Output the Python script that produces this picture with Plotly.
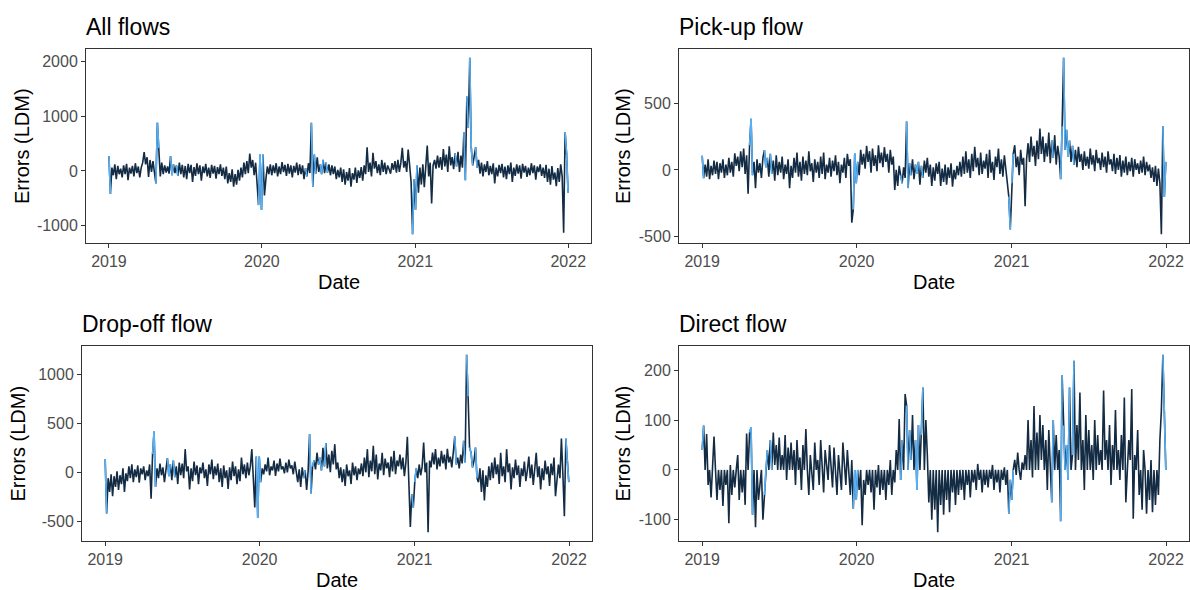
import numpy as np
import pandas as pd
import plotly.graph_objects as go

# Forecast errors (LDM), two readings per week from 2019-01-01 (weekday / weekend)
all_flows = [
    # 2019
    270, -420, 60, -80, 120, -150, 90, -60, 40,
    -120, 100, -60, 130, -170, 60, -50, 90,
    -100, 140, -40, 80, -120, 60, 150, 345, 120,
    250, -110, 200, -20, 180, -60, -230, 880,
    420, -100, 150, -60, 100, -30, 80, -50, 270,
    -80, 120, -40, 100, -90, 150, -60, 110, -120,
    90, -150, 130, -40, 110, -200, 70, -90, 140,
    -60, 100, -180, 80, -40, 130, -100, 60, -130,
    110, -50, 90, -140, 70, -60, 120, -90,
    60, -150, 80, -230, -40, -200, 30, -290, -60,
    -250, 20, -180, 60, -120, 150, -60, 180,
    -40, 315, 60, 200, -80, 150, -300, -625, 300,
    # 2020
    -715, 300, -450, -150, 80, -60, 120, -80, 100,
    -40, 140, -100, 80, -60, 160, -20, 110, -90,
    130, -50, 100, -120, 90, -30, 150, -80,
    120, -60, 100, -150, 50, -100, 140, -40, 880,
    -290, 300, -50, 250, -20, 120, -60, 200, -40,
    150, -30, 120, -80, 100, -60, 80, -150, 20,
    -120, 60, -200, 30, -250, -20, -180, 50,
    -290, -40, -160, 60, -220, 10, -130, 70, -180,
    100, -60, 430, -20, 150, -100, 330, 40, 180,
    -40, 120, -80, 200, -20, 150, -60, 100, 30,
    -50, 140, 20, 180, -30, 200, -20, 150,
    420, 60, 180, -20, 390, 100, -200, -1160, -150,
    # 2021
    -715, 100, -400, 60, -250, 120, -300, 80, 465,
    -100, 150, -595, 100, 200, 40, 280, 60,
    250, 20, 400, 80, 300, -20, 450, 100, 250,
    30, 320, 80, 350, -20, 280, 60, 710,
    -170, 1360, 790, 2070, 430, 100, 300, 430, 60,
    200, -50, 150, -100, 120, -20, 180, -80, 90,
    -60, 140, -230, 60, -100, 110, -40, 130, -120,
    80, -150, 100, -60, 150, -200, 60, -90, 120,
    -50, 100, -140, 130, -30, 90, -110, 60,
    -80, 140, -40, 100, -160, 80, -20, 120, -90,
    60, -130, 110, -200, 40, -250, 90, -160, -30,
    -280, 50, -200, 120, -100, -1130, 710, 315, -400,
]

pickup_flow = [
    # 2019
    106, -62, 40, -50, 80, -70, 30, -40, 70,
    -30, 60, -70, 50, -20, 80, -60, 40,
    -40, 90, -20, 60, -50, 124, 30, 100, -10,
    140, 20, 160, -30, 110, -178, 185, 383,
    -40, 60, -136, 80, -20, 50, -60, 90, 148,
    20, 90, -50, 120, -30, 70, -80, 110, -40,
    60, -20, 100, -70, 40, -30, 80, -136, 30,
    -60, 90, -20, 130, -50, 60, -80, 100, -30,
    70, -40, 140, -10, 50, -90, 80, -20,
    60, -60, 100, -30, 130, -70, 40, -20, 90,
    -50, 70, -10, 110, -40, 60, -100, 40,
    -20, 90, -60, 120, 30, 80, -395, -296, 123,
    # 2020
    -100, 60, -40, 150, 40, 120, 10, 180, 60,
    140, -20, 160, 30, 110, -10, 185, 50, 130,
    20, 170, 60, 120, -20, 150, 40, 100,
    -150, 0, -120, 30, -40, -100, 20, -60, 363,
    -136, 50, -40, 80, -70, 40, -30, 60, -110,
    30, -60, 70, -20, 90, -50, 40, -120, 20,
    -80, 50, -30, 60, -120, 10, -90, 40,
    -110, 20, -60, 50, -125, 0, -70, 30, -40,
    60, -50, 100, -30, 140, -20, 80, -60, 120,
    -10, 173, 20, 90, -40, 130, -30, 70, 10,
    120, -60, 150, -20, 60, -75, 100, 20,
    160, -30, 80, -50, 110, 0, -80, -200, -445,
    # 2021
    -100, 120, 185, 20, 100, -40, 150, 40, 90,
    -272, 80, 200, 60, 250, 100, 180, 30,
    220, 80, 309, 120, 250, 60, 200, 100, 280,
    50, 222, 90, 260, 40, 180, 100, -69,
    326, 840, 150, 300, 100, 220, 60, 180, 40,
    150, 20, 173, 60, 120, 0, 140, 30, 100,
    10, 160, 40, 110, -10, 150, 50, 90, 0,
    130, 20, 100, -20, 140, 40, 80, -10, 120,
    -30, 90, 0, 111, -50, 70, -20, 100,
    -40, 60, -10, 90, -50, 80, 0, 50, -30,
    70, -20, 100, -40, 60, -10, 40, -60, 20,
    -90, 30, -120, 10, -100, -482, 326, -200, 60,
]

dropoff_flow = [
    # 2019
    133, -420, -60, -200, -20, -243, -40, -150, 10,
    -180, -30, -120, 40, -200, -10, -90, 60,
    -60, 82, -100, 30, -50, 70, -106, 40, -20,
    60, -80, 20, -40, 80, -270, 185, 417,
    -150, 40, -60, 90, -30, 50, -100, 30, 144,
    -40, 80, -80, 120, -50, 60, -120, 100, -30,
    90, -60, 236, 10, 60, -174, 40, -90, 110,
    -30, 70, -120, 50, -10, 100, -60, 30, -140,
    80, -20, 130, -70, 60, -30, 90, -100,
    40, -150, 70, -60, 20, -170, 50, -80, 110,
    -40, 60, -120, 30, -90, 150, -20, 80,
    -60, 100, -30, 60, 236, -20, -360, 160, -465,
    # 2020
    160, -100, 40, -20, 80, 10, 150, -30, 60,
    20, 120, -38, 90, 10, 140, 30, 60, -10,
    100, 0, 130, 40, 70, -20, 110, 20,
    -100, 30, -150, 50, -60, 20, -180, 10, 390,
    -215, 60, 120, 30, 200, 80, 150, 20, 250,
    60, 298, 40, 180, 0, 220, 80, 287, 30,
    100, -60, 50, -100, 30, -140, 80, -40,
    20, -120, 100, -30, 60, -80, 40, -20, 90,
    -40, 150, 0, 236, -50, 120, 10, 270, -20,
    180, -72, 90, 20, 200, -30, 140, 40, 100,
    -50, 160, 10, 220, -20, 120, 60, 180,
    30, 150, -40, 100, 362, -100, -557, -225, -362,
    # 2021
    -100, 40, -60, 80, -30, 60, 304, 0, 100,
    -612, 120, 50, 200, 80, 236, 30, 150,
    60, 220, 90, 180, 30, 240, 100, 160, 50,
    200, 366, 80, 150, 40, 180, 90, 321,
    100, 1200, 776, 253, 200, 50, 120, 253, -60,
    -100, 40, -200, 20, -287, -30, -150, 60, -80,
    100, -60, 150, -20, 80, -120, 200, -40, 60,
    -100, 236, 0, 90, -174, 50, -60, 130, -30,
    70, -150, 40, -40, 110, -90, 20, 160,
    -60, 80, -130, 30, 200, -50, 60, -174, 40,
    -80, 120, -20, 60, -140, 90, -30, 150, -243,
    -100, 80, -60, 345, -20, -448, 345, 100, -100,
]

direct_flow = [
    # 2019
    40, 89, 0, 72, -30, 0, -55, 0, 67,
    0, -60, 0, -40, 0, -72, 0, -30,
    0, -107, 10, -50, 0, -35, 0, 30, -60,
    0, -45, 0, -70, 73, 0, 75, 85,
    -90, 0, -115, 0, -60, -30, 0, -100, -50,
    0, 40, 0, 60, 0, 75, 10, 50, 0,
    65, 0, 30, 0, 70, -20, 45, 0, 55,
    0, 40, -30, 60, 0, 25, -40, 50, 0,
    82, 0, -50, 30, 0, -40, 55, 0,
    20, -30, 60, 0, -45, 40, 0, -20, 50,
    0, -35, 45, 0, -50, 30, 0, -40,
    55, 0, -30, 40, 0, -50, 20, -78, 0,
    # 2020
    -60, 0, -40, 0, -111, -20, -50, 0, -30,
    0, -45, 0, -80, 0, -35, 10, -50, 0,
    -40, 0, -60, 0, -30, 20, -50, 0,
    -25, 40, 0, 102, -20, 60, 0, 152, 129,
    0, 80, 20, 110, 0, 60, -40, 90, 0,
    70, 165, 0, 100, 30, -65, 0, -100, 0,
    -80, 0, -125, 0, -70, 0, -90, 0,
    -60, 0, -85, 0, -45, 0, -70, 0, -50,
    0, -40, 0, -60, 0, -30, 0, -55, 0,
    -25, 0, -40, 12, -20, 0, -45, 0, -30,
    0, -35, 0, -18, 10, -40, 0, -25,
    0, -45, 0, -20, 5, -30, 0, -88, -20,
    # 2021
    -60, 0, 20, -10, 35, 0, -20, 15, 0,
    30, 0, 100, 0, 60, -15, 128, 0,
    75, 0, 110, 20, 90, 0, 60, -40, 80,
    0, -65, 100, 0, 70, 0, 40, -103,
    190, 89, 0, 50, -20, 165, 0, 30, 219,
    0, 90, 20, 155, 0, 60, -40, 110, 0,
    80, 0, 50, -20, 100, 0, 70, 10, 40,
    0, 159, 20, 60, 0, 90, -30, 50, 0,
    120, 0, 40, -20, 70, 0, 145, -65,
    0, 60, 20, 162, -98, 30, 0, 80, -50,
    0, -80, 40, 0, -88, 0, -60, 20, -85,
    0, -70, 0, -50, 60, 119, 231, 115, 0,
]

# Public holidays; readings within two days of one are highlighted
holiday_dates = [
    "2019-01-01", "2019-04-22", "2019-04-27", "2019-05-30", "2019-06-10",
    "2019-12-25", "2019-12-26", "2020-01-01", "2020-04-13", "2020-04-27",
    "2020-05-05", "2020-05-21", "2020-06-01", "2020-12-25", "2020-12-26",
    "2021-01-01", "2021-04-05", "2021-04-27", "2021-05-05", "2021-05-13",
    "2021-05-24", "2021-12-25", "2021-12-26", "2022-01-01",
]

panel_titles = ["All flows", "Pick-up flow", "Drop-off flow", "Direct flow"]
year_ticks = ["2019", "2020", "2021", "2022"]
y_tick_values = [
    [-1000, 0, 1000, 2000],
    [-500, 0, 500],
    [-500, 0, 500, 1000],
    [-100, 0, 100, 200],
]
series = [all_flows, pickup_flow, dropoff_flow, direct_flow]

DARK = "#132B43"
LIGHT = "#56B1F7"
FONT = "Liberation Sans, Arial, sans-serif"
W, H = 1190, 590
LINE_W = 1.6

# Panel boxes in pixels: left, right, top, bottom
boxes = [(86, 591, 49, 244), (679, 1189, 49, 244),
         (82, 592, 347, 543), (679, 1189, 347, 543)]

fig = go.Figure()
hol = pd.to_datetime(holiday_dates).values
tick_dates = pd.to_datetime([f"{y}-01-01" for y in year_ticks])
annotations = []

for k, (vals, box) in enumerate(zip(series, boxes)):
    left, right, top, bottom = box
    dates = pd.date_range("2019-01-01", periods=len(vals), freq="84h")
    y = np.asarray(vals, dtype=float)
    gap = np.abs((dates.values[:, None] - hol[None, :]) / np.timedelta64(1, "D"))
    flag = (gap <= 2).any(axis=1)

    sx = "" if k == 0 else str(k + 1)
    fig.add_trace(go.Scatter(x=dates, y=y, mode="lines",
                             line=dict(color=DARK, width=LINE_W),
                             xaxis="x" + sx, yaxis="y" + sx, hoverinfo="skip"))
    bx, by = [], []
    for i in np.where(flag)[0]:
        if i + 1 < len(y):
            bx += [dates[i], dates[i + 1], None]
            by += [y[i], y[i + 1], None]
    fig.add_trace(go.Scatter(x=bx, y=by, mode="lines",
                             line=dict(color=LIGHT, width=LINE_W),
                             xaxis="x" + sx, yaxis="y" + sx, hoverinfo="skip"))

    pad_x = (dates[-1] - dates[0]) * 0.05
    pad_y = (y.max() - y.min()) * 0.05
    common = dict(showline=True, mirror=True, linecolor="#333333", linewidth=1,
                  ticks="outside", ticklen=4, tickcolor="#333333", tickwidth=1,
                  tickfont=dict(family=FONT, size=16, color="#4D4D4D"),
                  showgrid=False, zeroline=False)
    fig.update_layout(**{
        "xaxis" + sx: dict(domain=[left / W, right / W], anchor="y" + sx,
                           range=[dates[0] - pad_x, dates[-1] + pad_x],
                           tickvals=tick_dates, ticktext=year_ticks, **common),
        "yaxis" + sx: dict(domain=[1 - bottom / H, 1 - top / H], anchor="x" + sx,
                           range=[y.min() - pad_y, y.max() + pad_y],
                           tickvals=y_tick_values[k],
                           ticktext=[str(v) for v in y_tick_values[k]], **common),
    })

    annotations.append(dict(text=panel_titles[k], x=(left - 2) / W, y=1 - (top - 22) / H,
                            xref="paper", yref="paper", xanchor="left", yanchor="middle",
                            showarrow=False, font=dict(family=FONT, size=23, color="black")))
    annotations.append(dict(text="Errors (LDM)", x=(left - 64) / W if left < 600 else (left - 56) / W,
                            y=1 - (top + bottom) / 2 / H, xref="paper", yref="paper",
                            xanchor="center", yanchor="middle", textangle=-90, showarrow=False,
                            font=dict(family=FONT, size=20, color="black")))
    annotations.append(dict(text="Date", x=(left + right) / 2 / W, y=1 - (bottom + 39) / H,
                            xref="paper", yref="paper", xanchor="center", yanchor="middle",
                            showarrow=False, font=dict(family=FONT, size=20, color="black")))

fig.update_layout(width=W, height=H, margin=dict(l=0, r=0, t=0, b=0),
                  paper_bgcolor="white", plot_bgcolor="white", showlegend=False,
                  annotations=annotations, font=dict(family=FONT))

fig.write_html("out.html")
